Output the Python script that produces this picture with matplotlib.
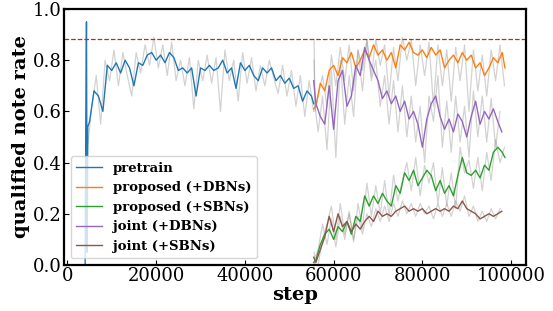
"""qualified note rate over training steps"""
import matplotlib
matplotlib.use("Agg")
import matplotlib.pyplot as plt

# smoothed curves
pretrain_steps = [4000, 4150, 4300, 4450, 4600, 5000] + list(range(6000, 56000, 1000)) + [55500]
pretrain = [0.0, 0.57, 0.95, 0.05, 0.54, 0.56,
            0.68, 0.66, 0.60, 0.78, 0.76, 0.79, 0.75, 0.80, 0.77, 0.70,
            0.79, 0.78, 0.82, 0.83, 0.80, 0.82, 0.79, 0.83, 0.81, 0.76,
            0.77, 0.75, 0.77, 0.66, 0.77, 0.76, 0.78, 0.76, 0.77, 0.80,
            0.75, 0.77, 0.69, 0.79, 0.76, 0.78, 0.74, 0.72, 0.77, 0.75,
            0.77, 0.72, 0.74, 0.71, 0.73, 0.69, 0.70, 0.64, 0.68, 0.66,
            0.63]

late_steps = [55500] + list(range(56000, 99000, 1000)) + [98600]
proposed_dbn = [0.61, 0.62, 0.71, 0.68, 0.76, 0.78, 0.74, 0.81, 0.79, 0.83, 0.77,
                0.80, 0.84, 0.81, 0.86, 0.82, 0.84, 0.80, 0.83, 0.77, 0.86,
                0.84, 0.87, 0.83, 0.82, 0.84, 0.81, 0.85, 0.82, 0.84, 0.77,
                0.80, 0.82, 0.79, 0.83, 0.80, 0.82, 0.77, 0.79, 0.74, 0.77,
                0.81, 0.79, 0.83, 0.77]
proposed_sbn = [0.01, 0.02, 0.08, 0.12, 0.14, 0.10, 0.15, 0.13, 0.17, 0.12, 0.19,
                0.17, 0.27, 0.23, 0.27, 0.24, 0.28, 0.25, 0.23, 0.31, 0.28,
                0.36, 0.33, 0.37, 0.31, 0.34, 0.37, 0.35, 0.29, 0.33, 0.28,
                0.31, 0.27, 0.35, 0.42, 0.36, 0.35, 0.37, 0.34, 0.39, 0.37,
                0.44, 0.46, 0.44, 0.42]

joint_steps = [55500] + list(range(56000, 98000, 1000)) + [97900]
joint_dbn = [0.72, 0.63, 0.58, 0.55, 0.70, 0.53, 0.72, 0.76, 0.62, 0.66, 0.78,
             0.74, 0.85, 0.80, 0.76, 0.72, 0.65, 0.68, 0.63, 0.66, 0.60,
             0.64, 0.57, 0.60, 0.55, 0.46, 0.57, 0.63, 0.66, 0.58, 0.53,
             0.57, 0.52, 0.59, 0.56, 0.50, 0.58, 0.64, 0.55, 0.60, 0.57,
             0.61, 0.56, 0.52]
joint_sbn = [0.03, 0.01, 0.06, 0.11, 0.19, 0.13, 0.20, 0.15, 0.17, 0.13, 0.16,
             0.14, 0.17, 0.19, 0.17, 0.21, 0.19, 0.20, 0.19, 0.21, 0.22,
             0.23, 0.21, 0.22, 0.21, 0.22, 0.20, 0.21, 0.22, 0.21, 0.22,
             0.21, 0.23, 0.22, 0.25, 0.22, 0.21, 0.20, 0.18, 0.19, 0.20,
             0.19, 0.20, 0.21]

# raw (unsmoothed) curves, drawn in gray
raw_pre_steps = list(range(4500, 56000, 1000))
raw_pretrain = [0.45, 0.62, 0.74, 0.55, 0.80, 0.72, 0.84, 0.70, 0.83, 0.74,
                0.66, 0.83, 0.75, 0.86, 0.78, 0.89, 0.77, 0.86, 0.74, 0.87,
                0.72, 0.80, 0.70, 0.81, 0.61, 0.80, 0.72, 0.82, 0.71, 0.81,
                0.60, 0.84, 0.72, 0.80, 0.64, 0.83, 0.71, 0.81, 0.68, 0.78,
                0.70, 0.80, 0.73, 0.67, 0.78, 0.66, 0.76, 0.62, 0.74, 0.58,
                0.72, 0.60]

raw_late_steps = [55600, 55800] + list(range(56500, 99000, 1000))
raw_proposed_dbn = [0.88, 0.60, 0.66, 0.74, 0.62, 0.82, 0.70, 0.85, 0.72, 0.86, 0.68,
                    0.84, 0.76, 0.88, 0.74, 0.88, 0.78, 0.86, 0.66, 0.85, 0.72,
                    0.89, 0.80, 0.88, 0.70, 0.86, 0.74, 0.87, 0.62, 0.86, 0.70,
                    0.84, 0.64, 0.85, 0.72, 0.86, 0.60, 0.84, 0.68, 0.82, 0.66,
                    0.84, 0.72, 0.86, 0.70]
raw_proposed_sbn = [0.0, 0.03, 0.06, 0.16, 0.08, 0.18, 0.07, 0.19, 0.10, 0.21, 0.09,
                    0.24, 0.14, 0.32, 0.19, 0.31, 0.20, 0.33, 0.19, 0.35, 0.25,
                    0.33, 0.40, 0.29, 0.42, 0.27, 0.39, 0.32, 0.40, 0.24, 0.38,
                    0.23, 0.36, 0.22, 0.46, 0.36, 0.41, 0.30, 0.42, 0.29, 0.44,
                    0.33, 0.49, 0.40, 0.46]

raw_joint_steps = [55600, 55800] + list(range(56500, 98000, 1000))
raw_joint_dbn = [0.80, 0.62, 0.52, 0.66, 0.45, 0.76, 0.42, 0.80, 0.55, 0.74, 0.58,
                 0.84, 0.68, 0.88, 0.72, 0.80, 0.62, 0.74, 0.55, 0.72, 0.52,
                 0.70, 0.50, 0.66, 0.48, 0.62, 0.40, 0.66, 0.56, 0.74, 0.46,
                 0.64, 0.44, 0.66, 0.48, 0.62, 0.42, 0.68, 0.50, 0.66, 0.48,
                 0.65, 0.46, 0.60]
raw_joint_sbn = [0.05, 0.0, 0.00, 0.10, 0.16, 0.23, 0.10, 0.24, 0.12, 0.20, 0.10,
                 0.19, 0.12, 0.20, 0.15, 0.22, 0.17, 0.23, 0.17, 0.24, 0.19,
                 0.25, 0.20, 0.24, 0.19, 0.24, 0.20, 0.23, 0.18, 0.24, 0.19,
                 0.24, 0.19, 0.25, 0.21, 0.27, 0.19, 0.23, 0.17, 0.21, 0.17,
                 0.22, 0.18, 0.22]

target_rate = 0.883

plt.rcParams["font.family"] = "DejaVu Serif"

fig = plt.figure(figsize=(5.53, 3.11), dpi=100)
ax = fig.add_axes([0.116, 0.148, 0.835, 0.823])

# gray raw lines underneath
for xs, ys in [(raw_pre_steps, raw_pretrain), (raw_late_steps, raw_proposed_dbn),
               (raw_late_steps, raw_proposed_sbn), (raw_joint_steps, raw_joint_dbn),
               (raw_joint_steps, raw_joint_sbn)]:
    ax.plot(xs, ys, color="gray", alpha=0.35, lw=0.9)

ax.plot(pretrain_steps, pretrain, color="tab:blue", lw=1.0, label="pretrain")
ax.plot(late_steps, proposed_dbn, color="tab:orange", lw=1.0, label="proposed (+DBNs)")
ax.plot(late_steps, proposed_sbn, color="tab:green", lw=1.0, label="proposed (+SBNs)")
ax.plot(joint_steps, joint_dbn, color="tab:purple", lw=1.0, label="joint (+DBNs)")
ax.plot(joint_steps, joint_sbn, color="tab:brown", lw=1.0, label="joint (+SBNs)")

ax.axhline(target_rate, color="#cc2222", ls="--", lw=0.9)

ax.set_ylim(0.0, 1.0)
ax.set_xticks([0, 20000, 40000, 60000, 80000, 100000])
ax.set_yticks([0.0, 0.2, 0.4, 0.6, 0.8, 1.0])
ax.tick_params(direction="in", labelsize=13, pad=1.5)
for sp in ax.spines.values():
    sp.set_linewidth(1.6)

ax.set_xlabel("step", fontsize=14, fontweight="bold", labelpad=1)
ax.set_ylabel("qualified note rate", fontsize=14, fontweight="bold", labelpad=2)

leg = ax.legend(loc="lower left", prop={"size": 9.5, "weight": "bold"})

plt.savefig("out.png", dpi=100)
